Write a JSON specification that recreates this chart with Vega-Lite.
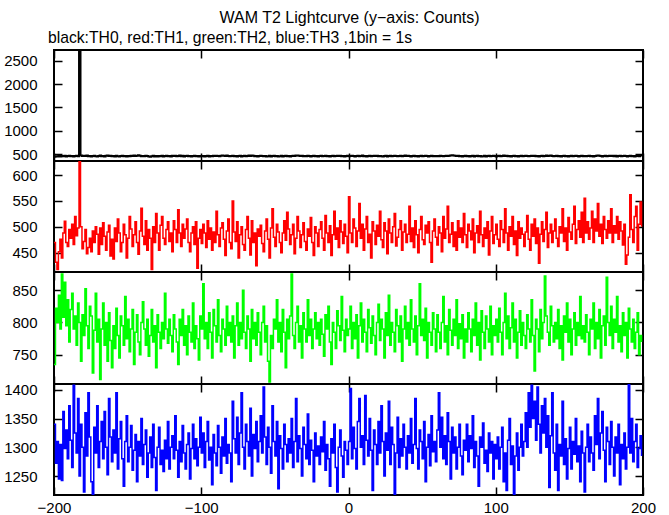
{
"$schema":"https://vega.github.io/schema/vega-lite/v6.json",
"padding":{"left":2,"top":10,"right":5,"bottom":0},
"background":"white",
"title":{"text":"WAM T2 Lightcurve (y−axis: Counts)","anchor":"middle","font":"Liberation Sans","fontSize":16,"fontWeight":"normal","color":"#000","offset":3,"dx":20},
"spacing":0,
"bounds":"flush",
"config":{"view":{"stroke":"#000","strokeWidth":2},"axis":{"domain":false,"ticks":false,"grid":true,"gridColor":"#000","gridOpacity":1,"zindex":1,"labelFont":"Liberation Sans","labelFontSize":15,"labelColor":"#000","labelFlush":false,"labelOverlap":false,"labelBound":false,"format":"d"}},
"data":{"values":[
{"t":-200,"th0":440,"th1":470,"th2":735,"th3":1340},
{"t":-199,"th0":452,"th1":432,"th2":822,"th3":1272},
{"t":-198,"th0":448,"th1":418,"th2":800,"th3":1310},
{"t":-197,"th0":460,"th1":452,"th2":842,"th3":1245},
{"t":-196,"th0":445,"th1":476,"th2":790,"th3":1305},
{"t":-195,"th0":458,"th1":440,"th2":875,"th3":1242},
{"t":-194,"th0":450,"th1":488,"th2":808,"th3":1362},
{"t":-193,"th0":462,"th1":511,"th2":862,"th3":1298},
{"t":-192,"th0":447,"th1":470,"th2":795,"th3":1330},
{"t":-191,"th0":455,"th1":462,"th2":835,"th3":1280},
{"t":-190,"th0":463,"th1":495,"th2":770,"th3":1372},
{"t":-189,"th0":450,"th1":478,"th2":820,"th3":1312},
{"t":-188,"th0":458,"th1":505,"th2":845,"th3":1265},
{"t":-187,"th0":444,"th1":466,"th2":790,"th3":1408},
{"t":-186,"th0":456,"th1":520,"th2":810,"th3":1325},
{"t":-185,"th0":461,"th1":483,"th2":765,"th3":1290},
{"t":-184,"th0":452,"th1":498,"th2":830,"th3":1385},
{"t":-183,"th0":2900,"th1":640,"th2":800,"th3":1250},
{"t":-182,"th0":470,"th1":500,"th2":740,"th3":1340},
{"t":-181,"th0":458,"th1":458,"th2":812,"th3":1300},
{"t":-180,"th0":462,"th1":472,"th2":780,"th3":1222},
{"t":-179,"th0":455,"th1":495,"th2":852,"th3":1360},
{"t":-178,"th0":468,"th1":448,"th2":795,"th3":1285},
{"t":-177,"th0":450,"th1":460,"th2":760,"th3":1395},
{"t":-176,"th0":459,"th1":478,"th2":825,"th3":1318},
{"t":-175,"th0":447,"th1":452,"th2":810,"th3":1240},
{"t":-174,"th0":456,"th1":492,"th2":722,"th3":1215},
{"t":-173,"th0":463,"th1":470,"th2":788,"th3":1335},
{"t":-172,"th0":452,"th1":500,"th2":845,"th3":1290},
{"t":-171,"th0":445,"th1":486,"th2":770,"th3":1372},
{"t":-170,"th0":458,"th1":447,"th2":805,"th3":1265},
{"t":-169,"th0":466,"th1":498,"th2":712,"th3":1310},
{"t":-168,"th0":450,"th1":466,"th2":790,"th3":1345},
{"t":-167,"th0":455,"th1":508,"th2":830,"th3":1280},
{"t":-166,"th0":448,"th1":482,"th2":765,"th3":1362},
{"t":-165,"th0":460,"th1":455,"th2":800,"th3":1300},
{"t":-164,"th0":470,"th1":490,"th2":740,"th3":1252},
{"t":-163,"th0":457,"th1":503,"th2":815,"th3":1385},
{"t":-162,"th0":462,"th1":444,"th2":772,"th3":1318},
{"t":-161,"th0":451,"th1":476,"th2":730,"th3":1275},
{"t":-160,"th0":456,"th1":438,"th2":795,"th3":1330},
{"t":-159,"th0":449,"th1":498,"th2":760,"th3":1290},
{"t":-158,"th0":461,"th1":472,"th2":822,"th3":1395},
{"t":-157,"th0":453,"th1":515,"th2":780,"th3":1262},
{"t":-156,"th0":445,"th1":488,"th2":745,"th3":1315},
{"t":-155,"th0":458,"th1":452,"th2":810,"th3":1345},
{"t":-154,"th0":464,"th1":470,"th2":795,"th3":1280},
{"t":-153,"th0":450,"th1":505,"th2":765,"th3":1232},
{"t":-152,"th0":457,"th1":485,"th2":840,"th3":1310},
{"t":-151,"th0":446,"th1":440,"th2":775,"th3":1355},
{"t":-150,"th0":459,"th1":478,"th2":805,"th3":1275},
{"t":-149,"th0":452,"th1":520,"th2":755,"th3":1300},
{"t":-148,"th0":463,"th1":496,"th2":790,"th3":1338},
{"t":-147,"th0":455,"th1":462,"th2":820,"th3":1260},
{"t":-146,"th0":470,"th1":485,"th2":735,"th3":1295},
{"t":-145,"th0":458,"th1":510,"th2":785,"th3":1322},
{"t":-144,"th0":462,"th1":470,"th2":812,"th3":1240},
{"t":-143,"th0":475,"th1":447,"th2":770,"th3":1310},
{"t":-142,"th0":460,"th1":492,"th2":750,"th3":1285},
{"t":-141,"th0":452,"th1":536,"th2":800,"th3":1350},
{"t":-140,"th0":458,"th1":482,"th2":832,"th3":1270},
{"t":-139,"th0":450,"th1":466,"th2":790,"th3":1305},
{"t":-138,"th0":462,"th1":512,"th2":765,"th3":1330},
{"t":-137,"th0":455,"th1":455,"th2":805,"th3":1248},
{"t":-136,"th0":447,"th1":495,"th2":748,"th3":1290},
{"t":-135,"th0":441,"th1":478,"th2":780,"th3":1318},
{"t":-134,"th0":452,"th1":418,"th2":820,"th3":1265},
{"t":-133,"th0":460,"th1":500,"th2":770,"th3":1340},
{"t":-132,"th0":448,"th1":470,"th2":795,"th3":1282},
{"t":-131,"th0":455,"th1":526,"th2":730,"th3":1225},
{"t":-130,"th0":446,"th1":488,"th2":812,"th3":1300},
{"t":-129,"th0":458,"th1":455,"th2":785,"th3":1335},
{"t":-128,"th0":451,"th1":503,"th2":760,"th3":1270},
{"t":-127,"th0":462,"th1":520,"th2":800,"th3":1295},
{"t":-126,"th0":449,"th1":478,"th2":775,"th3":1258},
{"t":-125,"th0":455,"th1":466,"th2":845,"th3":1312},
{"t":-124,"th0":460,"th1":495,"th2":790,"th3":1280},
{"t":-123,"th0":452,"th1":510,"th2":768,"th3":1345},
{"t":-122,"th0":457,"th1":472,"th2":805,"th3":1262},
{"t":-121,"th0":447,"th1":488,"th2":780,"th3":1300},
{"t":-120,"th0":460,"th1":452,"th2":755,"th3":1320},
{"t":-119,"th0":455,"th1":512,"th2":812,"th3":1280},
{"t":-118,"th0":462,"th1":495,"th2":790,"th3":1355},
{"t":-117,"th0":450,"th1":470,"th2":770,"th3":1295},
{"t":-116,"th0":458,"th1":533,"th2":735,"th3":1248},
{"t":-115,"th0":466,"th1":488,"th2":805,"th3":1310},
{"t":-114,"th0":453,"th1":462,"th2":780,"th3":1275},
{"t":-113,"th0":461,"th1":505,"th2":820,"th3":1338},
{"t":-112,"th0":447,"th1":478,"th2":765,"th3":1290},
{"t":-111,"th0":456,"th1":496,"th2":795,"th3":1262},
{"t":-110,"th0":463,"th1":515,"th2":750,"th3":1305},
{"t":-109,"th0":450,"th1":470,"th2":810,"th3":1325},
{"t":-108,"th0":458,"th1":452,"th2":785,"th3":1245},
{"t":-107,"th0":445,"th1":488,"th2":770,"th3":1298},
{"t":-106,"th0":456,"th1":500,"th2":830,"th3":1340},
{"t":-105,"th0":462,"th1":466,"th2":760,"th3":1280},
{"t":-104,"th0":451,"th1":510,"th2":795,"th3":1315},
{"t":-103,"th0":459,"th1":420,"th2":775,"th3":1268},
{"t":-102,"th0":448,"th1":478,"th2":742,"th3":1300},
{"t":-101,"th0":455,"th1":495,"th2":810,"th3":1352},
{"t":-100,"th0":450,"th1":468,"th2":790,"th3":1290},
{"t":-99,"th0":458,"th1":505,"th2":860,"th3":1325},
{"t":-98,"th0":446,"th1":488,"th2":775,"th3":1265},
{"t":-97,"th0":455,"th1":460,"th2":800,"th3":1310},
{"t":-96,"th0":462,"th1":512,"th2":760,"th3":1345},
{"t":-95,"th0":449,"th1":476,"th2":815,"th3":1278},
{"t":-94,"th0":457,"th1":498,"th2":785,"th3":1300},
{"t":-93,"th0":452,"th1":455,"th2":745,"th3":1235},
{"t":-92,"th0":461,"th1":490,"th2":820,"th3":1322},
{"t":-91,"th0":455,"th1":470,"th2":795,"th3":1290},
{"t":-90,"th0":464,"th1":530,"th2":770,"th3":1268},
{"t":-89,"th0":458,"th1":485,"th2":835,"th3":1338},
{"t":-88,"th0":450,"th1":462,"th2":780,"th3":1300},
{"t":-87,"th0":463,"th1":498,"th2":755,"th3":1255},
{"t":-86,"th0":470,"th1":508,"th2":805,"th3":1318},
{"t":-85,"th0":461,"th1":476,"th2":790,"th3":1285},
{"t":-84,"th0":456,"th1":445,"th2":765,"th3":1350},
{"t":-83,"th0":468,"th1":492,"th2":825,"th3":1272},
{"t":-82,"th0":459,"th1":515,"th2":780,"th3":1305},
{"t":-81,"th0":452,"th1":470,"th2":800,"th3":1290},
{"t":-80,"th0":457,"th1":458,"th2":770,"th3":1240},
{"t":-79,"th0":463,"th1":550,"th2":810,"th3":1380},
{"t":-78,"th0":450,"th1":490,"th2":745,"th3":1315},
{"t":-77,"th0":458,"th1":472,"th2":795,"th3":1290},
{"t":-76,"th0":447,"th1":510,"th2":830,"th3":1352},
{"t":-75,"th0":455,"th1":440,"th2":765,"th3":1270},
{"t":-74,"th0":462,"th1":485,"th2":800,"th3":1325},
{"t":-73,"th0":449,"th1":500,"th2":775,"th3":1395},
{"t":-72,"th0":456,"th1":466,"th2":850,"th3":1300},
{"t":-71,"th0":463,"th1":455,"th2":785,"th3":1262},
{"t":-70,"th0":451,"th1":495,"th2":760,"th3":1340},
{"t":-69,"th0":458,"th1":520,"th2":810,"th3":1310},
{"t":-68,"th0":466,"th1":478,"th2":790,"th3":1285},
{"t":-67,"th0":455,"th1":446,"th2":740,"th3":1368},
{"t":-66,"th0":470,"th1":512,"th2":820,"th3":1250},
{"t":-65,"th0":460,"th1":470,"th2":775,"th3":1322},
{"t":-64,"th0":452,"th1":488,"th2":800,"th3":1298},
{"t":-63,"th0":458,"th1":425,"th2":765,"th3":1345},
{"t":-62,"th0":449,"th1":496,"th2":815,"th3":1275},
{"t":-61,"th0":456,"th1":482,"th2":785,"th3":1310},
{"t":-60,"th0":462,"th1":503,"th2":750,"th3":1355},
{"t":-59,"th0":455,"th1":468,"th2":800,"th3":1290},
{"t":-58,"th0":450,"th1":452,"th2":825,"th3":1405},
{"t":-57,"th0":458,"th1":492,"th2":770,"th3":1318},
{"t":-56,"th0":446,"th1":515,"th2":795,"th3":1270},
{"t":-55,"th0":452,"th1":476,"th2":740,"th3":1335},
{"t":-54,"th0":460,"th1":440,"th2":708,"th3":1300},
{"t":-53,"th0":448,"th1":498,"th2":780,"th3":1255},
{"t":-52,"th0":455,"th1":535,"th2":760,"th3":1372},
{"t":-51,"th0":463,"th1":480,"th2":805,"th3":1310},
{"t":-50,"th0":451,"th1":462,"th2":790,"th3":1285},
{"t":-49,"th0":457,"th1":505,"th2":835,"th3":1345},
{"t":-48,"th0":445,"th1":490,"th2":770,"th3":1228},
{"t":-47,"th0":453,"th1":470,"th2":800,"th3":1320},
{"t":-46,"th0":460,"th1":450,"th2":755,"th3":1298},
{"t":-45,"th0":449,"th1":488,"th2":820,"th3":1262},
{"t":-44,"th0":456,"th1":512,"th2":785,"th3":1340},
{"t":-43,"th0":462,"th1":474,"th2":730,"th3":1305},
{"t":-42,"th0":450,"th1":528,"th2":805,"th3":1275},
{"t":-41,"th0":458,"th1":496,"th2":775,"th3":1315},
{"t":-40,"th0":448,"th1":466,"th2":810,"th3":1290},
{"t":-39,"th0":455,"th1":485,"th2":875,"th3":1350},
{"t":-38,"th0":462,"th1":505,"th2":780,"th3":1265},
{"t":-37,"th0":458,"th1":448,"th2":760,"th3":1310},
{"t":-36,"th0":466,"th1":478,"th2":800,"th3":1385},
{"t":-35,"th0":470,"th1":520,"th2":825,"th3":1275},
{"t":-34,"th0":461,"th1":492,"th2":770,"th3":1320},
{"t":-33,"th0":456,"th1":460,"th2":795,"th3":1298},
{"t":-32,"th0":463,"th1":485,"th2":745,"th3":1250},
{"t":-31,"th0":452,"th1":508,"th2":815,"th3":1335},
{"t":-30,"th0":458,"th1":472,"th2":790,"th3":1305},
{"t":-29,"th0":450,"th1":455,"th2":770,"th3":1280},
{"t":-28,"th0":462,"th1":496,"th2":835,"th3":1358},
{"t":-27,"th0":455,"th1":482,"th2":780,"th3":1270},
{"t":-26,"th0":448,"th1":518,"th2":805,"th3":1312},
{"t":-25,"th0":457,"th1":470,"th2":760,"th3":1295},
{"t":-24,"th0":463,"th1":445,"th2":790,"th3":1240},
{"t":-23,"th0":451,"th1":500,"th2":815,"th3":1325},
{"t":-22,"th0":458,"th1":488,"th2":775,"th3":1285},
{"t":-21,"th0":446,"th1":462,"th2":800,"th3":1302},
{"t":-20,"th0":455,"th1":495,"th2":765,"th3":1270},
{"t":-19,"th0":461,"th1":510,"th2":805,"th3":1318},
{"t":-18,"th0":450,"th1":478,"th2":782,"th3":1292},
{"t":-17,"th0":457,"th1":455,"th2":748,"th3":1345},
{"t":-16,"th0":463,"th1":522,"th2":812,"th3":1260},
{"t":-15,"th0":452,"th1":488,"th2":790,"th3":1305},
{"t":-14,"th0":459,"th1":470,"th2":825,"th3":1280},
{"t":-13,"th0":447,"th1":502,"th2":770,"th3":1232},
{"t":-12,"th0":456,"th1":445,"th2":735,"th3":1315},
{"t":-11,"th0":462,"th1":485,"th2":800,"th3":1290},
{"t":-10,"th0":450,"th1":530,"th2":785,"th3":1340},
{"t":-9,"th0":458,"th1":476,"th2":760,"th3":1265},
{"t":-8,"th0":465,"th1":498,"th2":818,"th3":1222},
{"t":-7,"th0":455,"th1":460,"th2":795,"th3":1300},
{"t":-6,"th0":461,"th1":512,"th2":772,"th3":1330},
{"t":-5,"th0":452,"th1":490,"th2":840,"th3":1285},
{"t":-4,"th0":458,"th1":468,"th2":788,"th3":1248},
{"t":-3,"th0":449,"th1":505,"th2":755,"th3":1310},
{"t":-2,"th0":457,"th1":482,"th2":805,"th3":1295},
{"t":-1,"th0":462,"th1":450,"th2":780,"th3":1270},
{"t":0,"th0":450,"th1":558,"th2":790,"th3":1310},
{"t":1,"th0":458,"th1":488,"th2":825,"th3":1402},
{"t":2,"th0":464,"th1":470,"th2":760,"th3":1280},
{"t":3,"th0":455,"th1":515,"th2":800,"th3":1335},
{"t":4,"th0":449,"th1":498,"th2":775,"th3":1298},
{"t":5,"th0":457,"th1":462,"th2":812,"th3":1262},
{"t":6,"th0":462,"th1":492,"th2":745,"th3":1345},
{"t":7,"th0":453,"th1":545,"th2":795,"th3":1385},
{"t":8,"th0":458,"th1":478,"th2":830,"th3":1300},
{"t":9,"th0":466,"th1":505,"th2":770,"th3":1320},
{"t":10,"th0":452,"th1":455,"th2":805,"th3":1270},
{"t":11,"th0":459,"th1":496,"th2":785,"th3":1390},
{"t":12,"th0":447,"th1":520,"th2":755,"th3":1312},
{"t":13,"th0":455,"th1":470,"th2":820,"th3":1285},
{"t":14,"th0":462,"th1":486,"th2":792,"th3":1350},
{"t":15,"th0":450,"th1":440,"th2":768,"th3":1295},
{"t":16,"th0":458,"th1":510,"th2":810,"th3":1225},
{"t":17,"th0":463,"th1":492,"th2":780,"th3":1330},
{"t":18,"th0":455,"th1":466,"th2":750,"th3":1305},
{"t":19,"th0":460,"th1":503,"th2":800,"th3":1270},
{"t":20,"th0":452,"th1":482,"th2":828,"th3":1345},
{"t":21,"th0":458,"th1":530,"th2":772,"th3":1290},
{"t":22,"th0":450,"th1":475,"th2":805,"th3":1372},
{"t":23,"th0":446,"th1":460,"th2":790,"th3":1310},
{"t":24,"th0":455,"th1":508,"th2":745,"th3":1250},
{"t":25,"th0":462,"th1":492,"th2":815,"th3":1325},
{"t":26,"th0":449,"th1":448,"th2":780,"th3":1295},
{"t":27,"th0":456,"th1":515,"th2":842,"th3":1380},
{"t":28,"th0":460,"th1":488,"th2":765,"th3":1270},
{"t":29,"th0":453,"th1":470,"th2":800,"th3":1335},
{"t":30,"th0":458,"th1":500,"th2":785,"th3":1305},
{"t":31,"th0":464,"th1":526,"th2":755,"th3":1218},
{"t":32,"th0":455,"th1":463,"th2":820,"th3":1290},
{"t":33,"th0":450,"th1":480,"th2":795,"th3":1352},
{"t":34,"th0":458,"th1":495,"th2":770,"th3":1265},
{"t":35,"th0":463,"th1":512,"th2":810,"th3":1315},
{"t":36,"th0":452,"th1":455,"th2":740,"th3":1285},
{"t":37,"th0":459,"th1":490,"th2":790,"th3":1340},
{"t":38,"th0":466,"th1":505,"th2":825,"th3":1300},
{"t":39,"th0":456,"th1":470,"th2":775,"th3":1262},
{"t":40,"th0":461,"th1":486,"th2":800,"th3":1320},
{"t":41,"th0":455,"th1":540,"th2":765,"th3":1290},
{"t":42,"th0":449,"th1":472,"th2":835,"th3":1350},
{"t":43,"th0":457,"th1":498,"th2":790,"th3":1272},
{"t":44,"th0":463,"th1":460,"th2":770,"th3":1305},
{"t":45,"th0":452,"th1":512,"th2":810,"th3":1385},
{"t":46,"th0":458,"th1":485,"th2":750,"th3":1298},
{"t":47,"th0":446,"th1":450,"th2":795,"th3":1262},
{"t":48,"th0":455,"th1":495,"th2":860,"th3":1330},
{"t":49,"th0":460,"th1":520,"th2":780,"th3":1310},
{"t":50,"th0":450,"th1":475,"th2":805,"th3":1280},
{"t":51,"th0":457,"th1":466,"th2":772,"th3":1345},
{"t":52,"th0":463,"th1":503,"th2":822,"th3":1240},
{"t":53,"th0":455,"th1":488,"th2":745,"th3":1300},
{"t":54,"th0":448,"th1":510,"th2":800,"th3":1322},
{"t":55,"th0":456,"th1":470,"th2":785,"th3":1268},
{"t":56,"th0":462,"th1":432,"th2":765,"th3":1355},
{"t":57,"th0":451,"th1":492,"th2":815,"th3":1292},
{"t":58,"th0":458,"th1":515,"th2":790,"th3":1310},
{"t":59,"th0":452,"th1":480,"th2":755,"th3":1275},
{"t":60,"th0":459,"th1":465,"th2":812,"th3":1330},
{"t":61,"th0":453,"th1":500,"th2":785,"th3":1395},
{"t":62,"th0":462,"th1":488,"th2":760,"th3":1300},
{"t":63,"th0":456,"th1":452,"th2":800,"th3":1352},
{"t":64,"th0":450,"th1":520,"th2":840,"th3":1280},
{"t":65,"th0":458,"th1":478,"th2":770,"th3":1320},
{"t":66,"th0":465,"th1":496,"th2":795,"th3":1270},
{"t":67,"th0":455,"th1":540,"th2":750,"th3":1360},
{"t":68,"th0":461,"th1":470,"th2":820,"th3":1310},
{"t":69,"th0":468,"th1":486,"th2":788,"th3":1245},
{"t":70,"th0":473,"th1":508,"th2":765,"th3":1335},
{"t":71,"th0":466,"th1":462,"th2":805,"th3":1290},
{"t":72,"th0":460,"th1":490,"th2":780,"th3":1318},
{"t":73,"th0":455,"th1":455,"th2":835,"th3":1262},
{"t":74,"th0":462,"th1":512,"th2":760,"th3":1300},
{"t":75,"th0":450,"th1":480,"th2":798,"th3":1340},
{"t":76,"th0":458,"th1":498,"th2":775,"th3":1285},
{"t":77,"th0":449,"th1":470,"th2":812,"th3":1252},
{"t":78,"th0":456,"th1":526,"th2":745,"th3":1312},
{"t":79,"th0":463,"th1":485,"th2":790,"th3":1295},
{"t":80,"th0":452,"th1":460,"th2":770,"th3":1340},
{"t":81,"th0":458,"th1":505,"th2":815,"th3":1275},
{"t":82,"th0":446,"th1":492,"th2":790,"th3":1320},
{"t":83,"th0":455,"th1":475,"th2":755,"th3":1298},
{"t":84,"th0":461,"th1":515,"th2":805,"th3":1355},
{"t":85,"th0":449,"th1":450,"th2":780,"th3":1265},
{"t":86,"th0":457,"th1":488,"th2":830,"th3":1310},
{"t":87,"th0":463,"th1":502,"th2":765,"th3":1285},
{"t":88,"th0":451,"th1":470,"th2":800,"th3":1232},
{"t":89,"th0":458,"th1":530,"th2":742,"th3":1318},
{"t":90,"th0":445,"th1":485,"th2":818,"th3":1300},
{"t":91,"th0":453,"th1":462,"th2":785,"th3":1342},
{"t":92,"th0":460,"th1":498,"th2":760,"th3":1272},
{"t":93,"th0":448,"th1":478,"th2":810,"th3":1295},
{"t":94,"th0":456,"th1":510,"th2":790,"th3":1258},
{"t":95,"th0":462,"th1":446,"th2":770,"th3":1325},
{"t":96,"th0":450,"th1":492,"th2":825,"th3":1290},
{"t":97,"th0":457,"th1":520,"th2":750,"th3":1310},
{"t":98,"th0":463,"th1":468,"th2":795,"th3":1245},
{"t":99,"th0":455,"th1":485,"th2":780,"th3":1305},
{"t":100,"th0":448,"th1":505,"th2":805,"th3":1280},
{"t":101,"th0":456,"th1":476,"th2":770,"th3":1318},
{"t":102,"th0":462,"th1":462,"th2":822,"th3":1262},
{"t":103,"th0":451,"th1":512,"th2":785,"th3":1300},
{"t":104,"th0":459,"th1":495,"th2":750,"th3":1335},
{"t":105,"th0":466,"th1":470,"th2":800,"th3":1240},
{"t":106,"th0":455,"th1":535,"th2":845,"th3":1290},
{"t":107,"th0":461,"th1":488,"th2":775,"th3":1225},
{"t":108,"th0":450,"th1":455,"th2":810,"th3":1312},
{"t":109,"th0":458,"th1":500,"th2":760,"th3":1350},
{"t":110,"th0":447,"th1":482,"th2":792,"th3":1270},
{"t":111,"th0":455,"th1":520,"th2":830,"th3":1302},
{"t":112,"th0":462,"th1":466,"th2":770,"th3":1218},
{"t":113,"th0":452,"th1":492,"th2":805,"th3":1285},
{"t":114,"th0":459,"th1":445,"th2":745,"th3":1325},
{"t":115,"th0":446,"th1":510,"th2":785,"th3":1260},
{"t":116,"th0":455,"th1":478,"th2":818,"th3":1300},
{"t":117,"th0":461,"th1":498,"th2":765,"th3":1340},
{"t":118,"th0":450,"th1":486,"th2":800,"th3":1285},
{"t":119,"th0":458,"th1":462,"th2":780,"th3":1310},
{"t":120,"th0":463,"th1":490,"th2":760,"th3":1360},
{"t":121,"th0":455,"th1":522,"th2":812,"th3":1300},
{"t":122,"th0":450,"th1":476,"th2":790,"th3":1395},
{"t":123,"th0":458,"th1":455,"th2":770,"th3":1335},
{"t":124,"th0":465,"th1":505,"th2":835,"th3":1408},
{"t":125,"th0":456,"th1":482,"th2":780,"th3":1350},
{"t":126,"th0":460,"th1":515,"th2":725,"th3":1380},
{"t":127,"th0":452,"th1":468,"th2":805,"th3":1312},
{"t":128,"th0":458,"th1":498,"th2":790,"th3":1405},
{"t":129,"th0":447,"th1":430,"th2":755,"th3":1340},
{"t":130,"th0":456,"th1":486,"th2":820,"th3":1290},
{"t":131,"th0":462,"th1":510,"th2":775,"th3":1372},
{"t":132,"th0":451,"th1":472,"th2":800,"th3":1325},
{"t":133,"th0":459,"th1":495,"th2":872,"th3":1385},
{"t":134,"th0":466,"th1":528,"th2":810,"th3":1300},
{"t":135,"th0":455,"th1":460,"th2":785,"th3":1355},
{"t":136,"th0":462,"th1":488,"th2":765,"th3":1230},
{"t":137,"th0":470,"th1":505,"th2":825,"th3":1320},
{"t":138,"th0":458,"th1":470,"th2":795,"th3":1395},
{"t":139,"th0":452,"th1":492,"th2":770,"th3":1290},
{"t":140,"th0":457,"th1":515,"th2":800,"th3":1260},
{"t":141,"th0":462,"th1":478,"th2":775,"th3":1340},
{"t":142,"th0":450,"th1":462,"th2":820,"th3":1225},
{"t":143,"th0":458,"th1":500,"th2":760,"th3":1305},
{"t":144,"th0":447,"th1":488,"th2":795,"th3":1285},
{"t":145,"th0":455,"th1":535,"th2":742,"th3":1380},
{"t":146,"th0":461,"th1":472,"th2":810,"th3":1270},
{"t":147,"th0":453,"th1":498,"th2":785,"th3":1315},
{"t":148,"th0":459,"th1":455,"th2":830,"th3":1245},
{"t":149,"th0":446,"th1":518,"th2":770,"th3":1298},
{"t":150,"th0":455,"th1":490,"th2":805,"th3":1335},
{"t":151,"th0":462,"th1":476,"th2":750,"th3":1262},
{"t":152,"th0":450,"th1":505,"th2":790,"th3":1310},
{"t":153,"th0":458,"th1":540,"th2":815,"th3":1288},
{"t":154,"th0":464,"th1":468,"th2":765,"th3":1350},
{"t":155,"th0":456,"th1":495,"th2":800,"th3":1275},
{"t":156,"th0":449,"th1":512,"th2":780,"th3":1302},
{"t":157,"th0":457,"th1":480,"th2":840,"th3":1240},
{"t":158,"th0":463,"th1":528,"th2":775,"th3":1328},
{"t":159,"th0":452,"th1":470,"th2":795,"th3":1290},
{"t":160,"th0":458,"th1":555,"th2":770,"th3":1222},
{"t":161,"th0":450,"th1":488,"th2":812,"th3":1300},
{"t":162,"th0":456,"th1":510,"th2":785,"th3":1340},
{"t":163,"th0":463,"th1":476,"th2":750,"th3":1275},
{"t":164,"th0":452,"th1":498,"th2":805,"th3":1318},
{"t":165,"th0":459,"th1":530,"th2":790,"th3":1290},
{"t":166,"th0":447,"th1":470,"th2":830,"th3":1260},
{"t":167,"th0":455,"th1":515,"th2":760,"th3":1355},
{"t":168,"th0":462,"th1":492,"th2":800,"th3":1305},
{"t":169,"th0":468,"th1":545,"th2":775,"th3":1385},
{"t":170,"th0":460,"th1":482,"th2":820,"th3":1280},
{"t":171,"th0":455,"th1":505,"th2":745,"th3":1325},
{"t":172,"th0":448,"th1":468,"th2":795,"th3":1362},
{"t":173,"th0":456,"th1":520,"th2":810,"th3":1295},
{"t":174,"th0":462,"th1":495,"th2":765,"th3":1240},
{"t":175,"th0":451,"th1":478,"th2":870,"th3":1335},
{"t":176,"th0":459,"th1":512,"th2":800,"th3":1310},
{"t":177,"th0":465,"th1":488,"th2":780,"th3":1270},
{"t":178,"th0":456,"th1":535,"th2":825,"th3":1345},
{"t":179,"th0":461,"th1":470,"th2":760,"th3":1300},
{"t":180,"th0":453,"th1":502,"th2":805,"th3":1250},
{"t":181,"th0":460,"th1":488,"th2":785,"th3":1318},
{"t":182,"th0":448,"th1":520,"th2":840,"th3":1290},
{"t":183,"th0":456,"th1":476,"th2":770,"th3":1340},
{"t":184,"th0":462,"th1":510,"th2":795,"th3":1235},
{"t":185,"th0":450,"th1":492,"th2":755,"th3":1305},
{"t":186,"th0":458,"th1":465,"th2":815,"th3":1280},
{"t":187,"th0":464,"th1":505,"th2":780,"th3":1325},
{"t":188,"th0":455,"th1":428,"th2":800,"th3":1262},
{"t":189,"th0":449,"th1":446,"th2":745,"th3":1300},
{"t":190,"th0":457,"th1":480,"th2":822,"th3":1410},
{"t":191,"th0":463,"th1":562,"th2":790,"th3":1290},
{"t":192,"th0":452,"th1":495,"th2":770,"th3":1350},
{"t":193,"th0":459,"th1":470,"th2":805,"th3":1275},
{"t":194,"th0":446,"th1":520,"th2":760,"th3":1310},
{"t":195,"th0":455,"th1":540,"th2":785,"th3":1340},
{"t":196,"th0":461,"th1":455,"th2":815,"th3":1265},
{"t":197,"th0":450,"th1":505,"th2":750,"th3":1298},
{"t":198,"th0":458,"th1":548,"th2":780,"th3":1320},
{"t":199,"th0":455,"th1":500,"th2":770,"th3":1285}
]},
"vconcat":[
{"width":589,"height":111,
 "title":{"text":"black:TH0, red:TH1, green:TH2, blue:TH3 ,1bin = 1s","anchor":"start","frame":"group","font":"Liberation Sans","fontSize":15.7,"fontWeight":"normal","color":"#000","offset":3,"dx":-6},
 "layer":[
  {"mark":{"type":"line","interpolate":"step-after","color":"#000000","strokeWidth":2,"clip":true},
   "encoding":{
    "x":{"field":"t","type":"quantitative","scale":{"domain":[-200,200],"nice":false,"zero":false},"axis":{"orient":"bottom","values":[-200,-100,0,100,200],"gridDash":[8,95,8,2000],"gridWidth":1.5,"labels":false,"title":null}},
    "y":{"field":"th0","type":"quantitative","scale":{"domain":[350,2730],"nice":false,"zero":false},"axis":{"orient":"left","values":[500,1000,1500,2000,2500],"gridDash":[8,573,8,2000],"gridWidth":1.5,"labelPadding":17,"title":null}}}},
  {"mark":{"type":"line","strokeOpacity":0,"clip":true},
   "encoding":{
    "x":{"field":"t","type":"quantitative","scale":{"domain":[-200,200],"nice":false,"zero":false},"axis":{"orient":"top","values":[-180,-160,-140,-120,-80,-60,-40,-20,20,40,60,80,120,140,160,180],"gridDash":[4,103,4,2000],"gridWidth":1,"labels":false,"title":null}},
    "y":{"field":"th0","type":"quantitative","scale":{"domain":[350,2730],"nice":false,"zero":false},"axis":{"orient":"right","values":[400,600,700,800,900,1100,1200,1300,1400,1600,1700,1800,1900,2100,2200,2300,2400,2600,2700],"gridDash":[4,581,4,2000],"gridWidth":1,"labels":false,"title":null}}}}
 ],
 "resolve":{"axis":{"x":"independent","y":"independent"}}
},
{"width":589,"height":111,
 "layer":[
  {"mark":{"type":"line","interpolate":"step-after","color":"#ff0000","strokeWidth":1.5,"clip":true},
   "encoding":{
    "x":{"field":"t","type":"quantitative","scale":{"domain":[-200,200],"nice":false,"zero":false},"axis":{"orient":"bottom","values":[-200,-100,0,100,200],"gridDash":[8,95,8,2000],"gridWidth":1.5,"labels":false,"title":null}},
    "y":{"field":"th1","type":"quantitative","scale":{"domain":[413,627],"nice":false,"zero":false},"axis":{"orient":"left","values":[450,500,550,600],"gridDash":[8,573,8,2000],"gridWidth":1.5,"labelPadding":17,"title":null}}}},
  {"mark":{"type":"line","strokeOpacity":0,"clip":true},
   "encoding":{
    "x":{"field":"t","type":"quantitative","scale":{"domain":[-200,200],"nice":false,"zero":false},"axis":{"orient":"top","values":[-180,-160,-140,-120,-80,-60,-40,-20,20,40,60,80,120,140,160,180],"gridDash":[4,103,4,2000],"gridWidth":1,"labels":false,"title":null}},
    "y":{"field":"th1","type":"quantitative","scale":{"domain":[413,627],"nice":false,"zero":false},"axis":{"orient":"right","values":[420,430,440,460,470,480,490,510,520,530,540,560,570,580,590,610,620],"gridDash":[4,581,4,2000],"gridWidth":1,"labels":false,"title":null}}}}
 ],
 "resolve":{"axis":{"x":"independent","y":"independent"}}
},
{"width":589,"height":112,
 "layer":[
  {"mark":{"type":"line","interpolate":"step-after","color":"#00ff00","strokeWidth":1.5,"clip":true},
   "encoding":{
    "x":{"field":"t","type":"quantitative","scale":{"domain":[-200,200],"nice":false,"zero":false},"axis":{"orient":"bottom","values":[-200,-100,0,100,200],"gridDash":[8,96,8,2000],"gridWidth":1.5,"labels":false,"title":null}},
    "y":{"field":"th2","type":"quantitative","scale":{"domain":[705,878],"nice":false,"zero":false},"axis":{"orient":"left","values":[750,800,850],"gridDash":[8,573,8,2000],"gridWidth":1.5,"labelPadding":17,"title":null}}}},
  {"mark":{"type":"line","strokeOpacity":0,"clip":true},
   "encoding":{
    "x":{"field":"t","type":"quantitative","scale":{"domain":[-200,200],"nice":false,"zero":false},"axis":{"orient":"top","values":[-180,-160,-140,-120,-80,-60,-40,-20,20,40,60,80,120,140,160,180],"gridDash":[4,104,4,2000],"gridWidth":1,"labels":false,"title":null}},
    "y":{"field":"th2","type":"quantitative","scale":{"domain":[705,878],"nice":false,"zero":false},"axis":{"orient":"right","values":[710,720,730,740,760,770,780,790,810,820,830,840,860,870],"gridDash":[4,581,4,2000],"gridWidth":1,"labels":false,"title":null}}}}
 ],
 "resolve":{"axis":{"x":"independent","y":"independent"}}
},
{"width":589,"height":111,
 "layer":[
  {"mark":{"type":"line","interpolate":"step-after","color":"#0000ff","strokeWidth":1.5,"clip":true},
   "encoding":{
    "x":{"field":"t","type":"quantitative","scale":{"domain":[-200,200],"nice":false,"zero":false},"axis":{"orient":"bottom","values":[-200,-100,0,100,200],"gridDash":[8,95,8,2000],"gridWidth":1.5,"labelPadding":5,"title":null}},
    "y":{"field":"th3","type":"quantitative","scale":{"domain":[1217,1410],"nice":false,"zero":false},"axis":{"orient":"left","values":[1250,1300,1350,1400],"gridDash":[8,573,8,2000],"gridWidth":1.5,"labelPadding":17,"title":null}}}},
  {"mark":{"type":"line","strokeOpacity":0,"clip":true},
   "encoding":{
    "x":{"field":"t","type":"quantitative","scale":{"domain":[-200,200],"nice":false,"zero":false},"axis":{"orient":"top","values":[-180,-160,-140,-120,-80,-60,-40,-20,20,40,60,80,120,140,160,180],"gridDash":[4,103,4,2000],"gridWidth":1,"labels":false,"title":null}},
    "y":{"field":"th3","type":"quantitative","scale":{"domain":[1217,1410],"nice":false,"zero":false},"axis":{"orient":"right","values":[1220,1230,1240,1260,1270,1280,1290,1310,1320,1330,1340,1360,1370,1380,1390,1410],"gridDash":[4,581,4,2000],"gridWidth":1,"labels":false,"title":null}}}}
 ],
 "resolve":{"axis":{"x":"independent","y":"independent"}}
}
]
}
